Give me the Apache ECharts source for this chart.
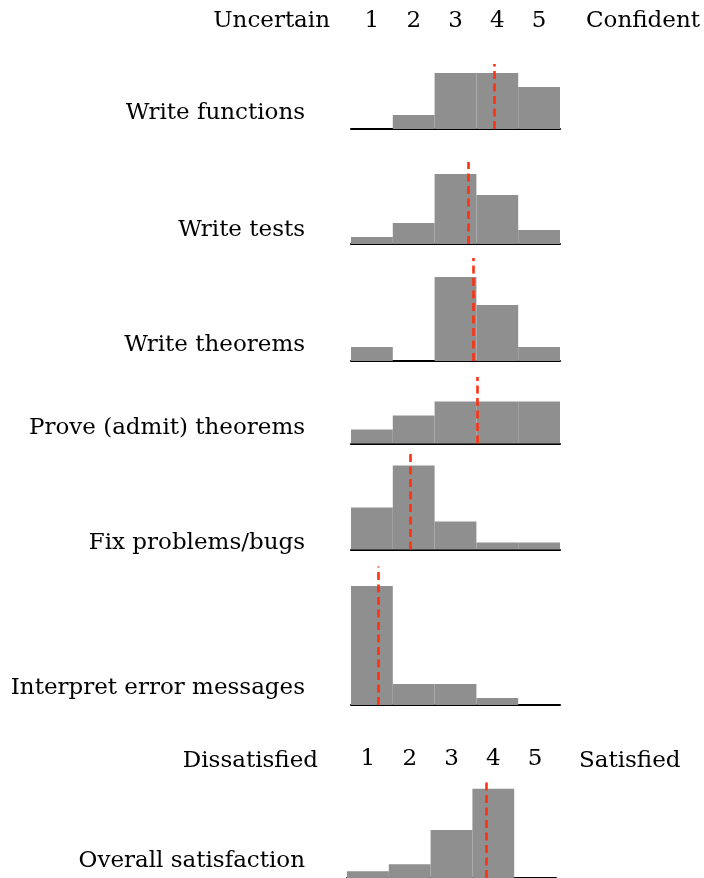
<!DOCTYPE html>
<html>
<head>
<meta charset="utf-8">
<script src="https://cdn.jsdelivr.net/npm/echarts@6/dist/echarts.min.js"></script>
<style>
html,body{margin:0;padding:0;background:#fff;}
#chart{width:704px;height:878px;}
</style>
</head>
<body>
<div id="chart"></div>
<script>
// ---- data ----
const categories = ['Write functions', 'Write tests', 'Write theorems', 'Prove (admit) theorems',
  'Fix problems/bugs', 'Interpret error messages', 'Overall satisfaction'];
const scoreLabels = ['1', '2', '3', '4', '5'];
const confidenceEnds = ['Uncertain', 'Confident'];
const satisfactionEnds = ['Dissatisfied', 'Satisfied'];
const counts = [
  [0, 2, 8, 8, 6],
  [1, 3, 10, 7, 2],
  [2, 0, 12, 8, 2],
  [2, 4, 6, 6, 6],
  [6, 12, 4, 1, 1],
  [17, 3, 3, 1, 0],
  [1, 2, 7, 13, 0]
];
const means = [3.93, 3.31, 3.42, 3.51, 1.91, 1.14, 3.82];
const lineTops = [9.3, 11.7, 14.7, 9.5, 14.3, 19.8, 14.4];

// ---- layout ----
const FONT = 'DejaVu Serif';
const FS = 23;
const unitPx = 7;
const baselines = [129, 244, 361, 443.5, 549.5, 705, 879.8];
const lefts = [351, 351, 351, 351, 351, 351, 347];
const labelMid = [112, 229, 344, 427, 542, 687, 860];
const plotW = 209;

const chart = echarts.init(document.getElementById('chart'), null, {renderer: 'canvas'});

const grid = [], xAxis = [], yAxis = [], series = [], graphic = [];
categories.forEach((name, i) => {
  const h = lineTops[i] * unitPx;
  grid.push({left: lefts[i], top: baselines[i] - h, width: plotW, height: h, containLabel: false});
  xAxis.push({
    type: 'value', gridIndex: i, min: 0.5, max: 5.5,
    axisLine: {show: true, onZero: false, lineStyle: {color: '#000', width: 2}},
    axisTick: {show: false}, axisLabel: {show: false}, splitLine: {show: false}
  });
  yAxis.push({type: 'value', gridIndex: i, min: 0, max: lineTops[i], show: false});
  series.push({
    type: 'custom', xAxisIndex: i, yAxisIndex: i,
    data: counts[i].map((c, k) => [k + 1, c]),
    renderItem: function (params, api) {
      const x = api.value(0), v = api.value(1);
      const p0 = api.coord([x - 0.5, 0]);
      const p1 = api.coord([x + 0.5, v]);
      return {
        type: 'rect',
        shape: {x: p0[0], y: p1[1], width: p1[0] - p0[0], height: p0[1] - p1[1]},
        style: {fill: '#8f8f8f'}
      };
    },
    z: 2,
    markLine: {
      silent: true, symbol: 'none', animation: false, z: 5,
      label: {show: false},
      emphasis: {disabled: true},
      lineStyle: {color: '#ff3010', type: [8, 4.5], width: 2.6, opacity: 1},
      data: [{xAxis: means[i]}]
    }
  });
  graphic.push({
    type: 'text', right: 704 - 305, top: labelMid[i] - 10,
    style: {text: name, font: FS + 'px "' + FONT + '"', fill: '#000'}
  });
});

// header tick-label axes (score scale) on first and last panel
xAxis.push({
  type: 'category', gridIndex: 0, position: 'top', data: scoreLabels,
  axisLine: {show: false}, axisTick: {show: false}, splitLine: {show: false},
  axisLabel: {margin: 31, fontFamily: FONT, fontSize: FS, color: '#000'}
});
xAxis.push({
  type: 'category', gridIndex: 6, position: 'top', data: scoreLabels,
  axisLine: {show: false}, axisTick: {show: false}, splitLine: {show: false},
  axisLabel: {margin: 8, fontFamily: FONT, fontSize: FS, color: '#000'}
});

graphic.push({type: 'text', right: 704 - 330, top: 10,
  style: {text: confidenceEnds[0], font: FS + 'px "' + FONT + '"', fill: '#000'}});
graphic.push({type: 'text', left: 586, top: 10,
  style: {text: confidenceEnds[1], font: FS + 'px "' + FONT + '"', fill: '#000'}});
graphic.push({type: 'text', right: 704 - 318, top: 750,
  style: {text: satisfactionEnds[0], font: FS + 'px "' + FONT + '"', fill: '#000'}});
graphic.push({type: 'text', left: 579, top: 750,
  style: {text: satisfactionEnds[1], font: FS + 'px "' + FONT + '"', fill: '#000'}});

chart.setOption({
  animation: false,
  backgroundColor: '#fff',
  grid, xAxis, yAxis, series, graphic
});
</script>
</body>
</html>
